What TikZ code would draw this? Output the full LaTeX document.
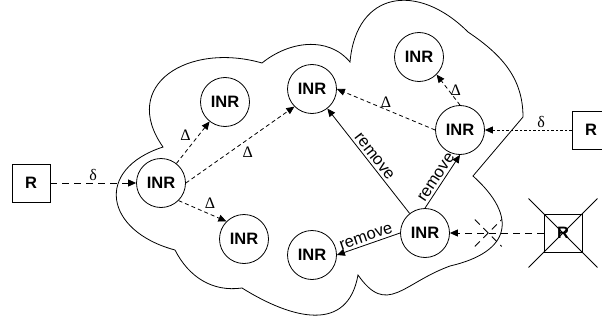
\documentclass[tikz,border=0pt]{standalone}
\usepackage{fontspec}
\setmainfont{Liberation Sans}
\newfontfamily\grkfont{Liberation Serif}
\usetikzlibrary{arrows.meta, shapes.misc}
\tikzset{
  inrnode/.style={circle,draw,line width=0.8pt,minimum size=49pt,inner sep=0pt,font=\fontsize{16.5}{18}\selectfont\bfseries},
  rnode/.style={rectangle,draw,line width=0.8pt,minimum size=38pt,inner sep=0pt,font=\fontsize{16.5}{18}\selectfont\bfseries},
  xmark/.style={cross out,draw,line width=0.9pt,inner sep=0pt},
  glabel/.style={font=\fontsize{16}{18}\selectfont\grkfont,inner sep=2pt},
  rmlabel/.style={font=\fontsize{16.5}{18}\selectfont,inner sep=2.5pt,sloped},
  cloudline/.style={line width=0.8pt},
  uplink/.style={-{Triangle[length=8pt,width=7pt]},line width=0.9pt,dash pattern=on 7pt off 5pt},
  deltaedge/.style={-{Triangle[length=8pt,width=7pt]},line width=0.8pt,dash pattern=on 4pt off 3pt},
  refresh/.style={-{Triangle[length=8pt,width=7pt]},line width=0.9pt,dash pattern=on 2.5pt off 2pt},
  rmedge/.style={-{Triangle[length=8pt,width=7pt]},line width=0.8pt},
}
\begin{document}
\begin{tikzpicture}[x=1pt,y=1pt]
  \useasboundingbox (0,0) rectangle (602,322);
  % cloud
  \draw[cloudline] (175,72)
    to[out=165,in=198,looseness=1.8] (163,175)
    to[out=125,in=164,looseness=1.5] (262,259)
    to[out=39,in=130] (350,260)
    to[out=85,in=135,looseness=1.5] (468,290)
    to[out=-34,in=90] (523,205)
    -- (473,146)
    to[out=-42,in=13,looseness=1.7] (450,56)
    to[out=200,in=-55,looseness=1.4] (358,47)
    to[out=-100,in=-32,looseness=1.3] (242,34)
    to[out=188,in=-63] (175,72);
  % routers
  \node[rnode] (rL) at (31,139) {R};
  \node[rnode] (rR) at (591,192) {R};
  \node[rnode] (rX) at (563,89) {R};
  \node[xmark,minimum size=68pt] (xbig) at (rX) {};
  \node[inrnode] (n1) at (161,139) {INR};
  \node[inrnode] (n2) at (225,220) {INR};
  \node[inrnode] (n3) at (312,233) {INR};
  \node[inrnode] (n4) at (244,83) {INR};
  \node[inrnode] (n5) at (312,67) {INR};
  \node[inrnode] (n6) at (425,89) {INR};
  \node[inrnode] (n7) at (460,192) {INR};
  \node[inrnode] (n8) at (419,265) {INR};
  % edges
  \draw[uplink] (rL) -- node[glabel,above] (dl1) {δ} (n1);
  \draw[deltaedge] (n1) -- node[glabel,above left] (dt1) {Δ} (n2);
  \draw[deltaedge] (n1.east) -- node[glabel,below right] (dt2) {Δ} (n3.south west);
  \draw[deltaedge] (n1.south east) -- node[glabel,above right] (dt3) {Δ} (n4.north west);
  \draw[deltaedge] (n7.west) -- node[glabel,above] (dt4) {Δ} (n3.east);
  \draw[deltaedge] (n7.north) -- node[glabel,right] (dt5) {Δ} (n8.south east);
  \draw[refresh] (rR) -- node[glabel,above,pos=0.35] (dl2) {δ} (n7);
  \draw[rmedge] (n6) -- node[rmlabel,above] (rm1) {remove} (n3);
  \draw[rmedge] (n6.north) -- node[rmlabel,above] (rm2) {remove} (n7.south);
  \draw[rmedge] (n6.west) -- node[rmlabel,above] (rm3) {remove} (n5.east);
  \draw[uplink] (rX) -- node[xmark,pos=0.59,minimum size=26pt] (xs) {} (n6);
\end{tikzpicture}
\end{document}
